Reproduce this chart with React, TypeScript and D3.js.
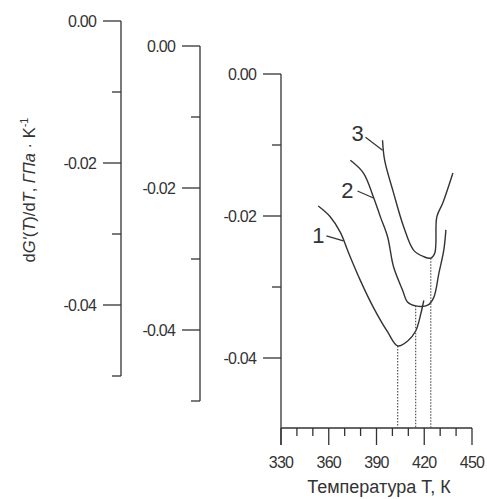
import * as d3 from "d3";

// temperature axis (K)
const TEMP_MAJOR = [330, 360, 390, 420, 450];
const TEMP_MINOR = [340, 350, 370, 380, 400, 410, 430, 440];
// derivative axes (GPa/K)
const Y_MAJOR = [0, -0.02, -0.04];
const Y_MINOR = [-0.01, -0.03, -0.05];

// [T, dG'/dT], each curve against its own offset axis
const CURVE_1: [number, number][] = [
  [353.4, -0.0186], [360.9, -0.0201], [367.3, -0.0223], [372.3, -0.0251],
  [379.9, -0.0291], [388.1, -0.0329], [396.9, -0.0363], [403.3, -0.0383],
  [409.6, -0.0376], [414.6, -0.0362], [417.8, -0.0338], [419.7, -0.0319],
];
const CURVE_2: [number, number][] = [
  [373.6, -0.0161], [381.8, -0.0179], [388.1, -0.0213], [392.5, -0.0241],
  [397.0, -0.0269], [400.7, -0.0311], [406.4, -0.0344], [409.6, -0.0361],
  [414.6, -0.0366], [422.2, -0.0365], [426.0, -0.0354], [429.2, -0.032],
  [432.3, -0.0287], [433.6, -0.0259],
];
const CURVE_3: [number, number][] = [
  [393.8, -0.0168], [395.1, -0.0196], [400.7, -0.0242], [407.1, -0.029],
  [413.4, -0.0323], [419.7, -0.0332], [424.1, -0.0334], [426.6, -0.0327],
  [427.3, -0.0313], [427.9, -0.0276], [431.7, -0.0256], [438.0, -0.0214],
];
const CURVE_NAMES = ["1", "2", "3"];
const MIN_TEMPS = [403.3, 414.6, 424.1];
// point on the curve where each label's leader ends
const LABEL_ANCHORS: [number, number][] = [[369.2, -0.0235], [388.1, -0.0214], [393.8, -0.0182]];

const W = 487;
const H = 499;
const INK = "#333";
const FONT = "'Liberation Sans', Arial, sans-serif";

export default function App() {
  const x = d3.scaleLinear().domain([330, 450]).range([281, 472]);
  const baseY = 428;

  // three staggered y axes: left, middle, right
  const axes = [
    { x: 121, zero: 21 },
    { x: 200, zero: 46 },
    { x: 281, zero: 74 },
  ].map((a) => ({ ...a, y: d3.scaleLinear().domain([0, -0.05]).range([a.zero, a.zero + 355]) }));

  // curve 1 on right axis, 2 on middle, 3 on left
  const series = [CURVE_1, CURVE_2, CURVE_3];
  const axisOf = [axes[2], axes[1], axes[0]];
  const labelOffsets = [
    { lx: -25, ly: -6, sx: -17, sy: -5 },
    { lx: -26, ly: -8, sx: -16, sy: -7 },
    { lx: -25, ly: -17, sx: -17, sy: -13 },
  ];

  const fmt = (v: number) => d3.format(".2f")(v).replace("\u2212", "-").replace("-0.00", "0.00");

  return (
    <svg width={W} height={H} style={{ position: "absolute", left: 0, top: 0, background: "#fff" }}>
      <g fontFamily={FONT} fill={INK}>
        {axes.map((a, i) => (
          <g key={i} stroke={INK} strokeWidth={1.3}>
            <line x1={a.x} x2={a.x} y1={a.y(0)} y2={i === 2 ? baseY + 17 : a.y(-0.05)} />
            {Y_MAJOR.map((v) => (
              <g key={v}>
                <line x1={a.x - 18} x2={a.x} y1={a.y(v)} y2={a.y(v)} />
                <text x={a.x - 25} y={a.y(v)} dy="0.35em" textAnchor="end" fontSize={16} stroke="none" fill={INK} letterSpacing={-0.8}>
                  {fmt(v)}
                </text>
              </g>
            ))}
            {Y_MINOR.filter((v) => !(i === 2 && v === -0.05)).map((v) => (
              <line key={v} x1={a.x - 9} x2={a.x} y1={a.y(v)} y2={a.y(v)} />
            ))}
          </g>
        ))}

        {/* temperature axis */}
        <g stroke={INK} strokeWidth={1.3}>
          <line x1={x(330)} x2={x(450)} y1={baseY} y2={baseY} />
          {TEMP_MAJOR.map((t) => (
            <line key={t} x1={x(t)} x2={x(t)} y1={baseY} y2={baseY + 17} />
          ))}
          {TEMP_MINOR.map((t) => (
            <line key={t} x1={x(t)} x2={x(t)} y1={baseY} y2={baseY + 8} />
          ))}
        </g>
        {TEMP_MAJOR.map((t) => (
          <text key={t} x={x(t)} y={462} dy="0.35em" textAnchor="middle" fontSize={16} letterSpacing={-0.8}>
            {t}
          </text>
        ))}
        <text x={379} y={493} textAnchor="middle" fontSize={18}>
          Температура Т, К
        </text>

        <text transform="translate(35,190) rotate(-90)" textAnchor="middle" fontSize={16.5}>
          d<tspan fontStyle="italic">G'</tspan>(<tspan fontStyle="italic">T</tspan>)/d<tspan fontStyle="italic">T</tspan>,{" "}
          <tspan fontStyle="italic">ГПа</tspan> · K<tspan dy={-7} fontSize={11}>-1</tspan>
        </text>

        {/* curves */}
        {series.map((s, i) => {
          const ax = axisOf[i];
          const line = d3
            .line<[number, number]>()
            .x((d) => x(d[0]))
            .y((d) => ax.y(d[1]))
            .curve(d3.curveCatmullRom.alpha(0.5));
          const minV = d3.min(s, (d) => d[1]) as number;
          const [at, av] = LABEL_ANCHORS[i];
          const ox = x(at);
          const oy = ax.y(av);
          const o = labelOffsets[i];
          return (
            <g key={i}>
              <line
                x1={x(MIN_TEMPS[i])}
                x2={x(MIN_TEMPS[i])}
                y1={ax.y(minV)}
                y2={baseY}
                stroke="#555"
                strokeWidth={1.2}
                strokeDasharray="1.5,1.5"
              />
              <path d={line(s) ?? ""} fill="none" stroke={INK} strokeWidth={1.4} />
              <line x1={ox + o.sx} y1={oy + o.sy} x2={ox} y2={oy} stroke={INK} strokeWidth={1.2} />
              <text x={ox + o.lx} y={oy + o.ly} dy="0.35em" textAnchor="middle" fontSize={22}>
                {CURVE_NAMES[i]}
              </text>
            </g>
          );
        })}
      </g>
    </svg>
  );
}
